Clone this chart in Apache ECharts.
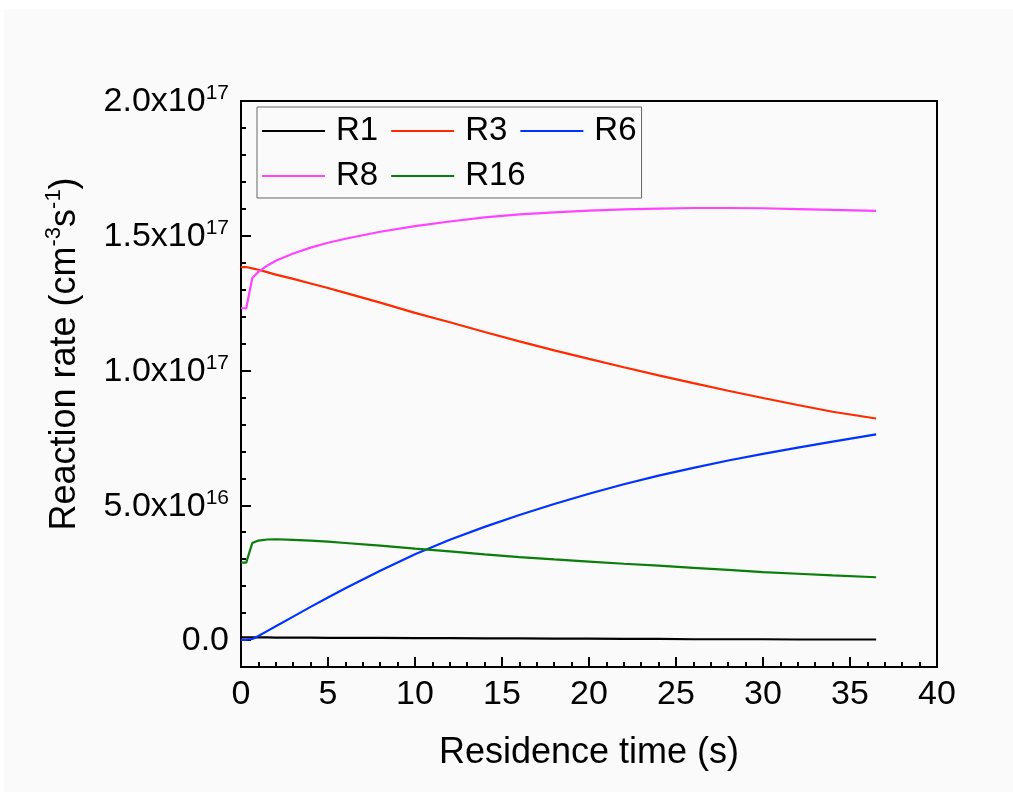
<!DOCTYPE html>
<html>
<head>
<meta charset="utf-8">
<script src="https://cdn.jsdelivr.net/npm/echarts@6/dist/echarts.min.js"></script>
<style>
  html, body { margin: 0; padding: 0; background: #ffffff; }
  #chart { width: 1013px; height: 792px; }
</style>
</head>
<body>
<div id="chart"></div>
<script>
// Residence time (s)
const time = [0, 0.3, 0.65, 1, 1.5, 2, 3, 4, 5, 6, 8, 10, 12, 14, 16, 18, 20, 22, 24, 26, 28, 30, 32, 34, 36.5];

// Reaction rates, in units of 1e16 cm^-3 s^-1
const rateR1 = [0.10, 0.10, 0.10, 0.10, 0.10, 0.09, 0.09, 0.09, 0.08, 0.08, 0.08, 0.07, 0.07, 0.06, 0.06, 0.05, 0.05, 0.04, 0.04, 0.03, 0.03, 0.03, 0.02, 0.02, 0.02];
const rateR3 = [13.84, 13.84, 13.79, 13.74, 13.65, 13.56, 13.40, 13.23, 13.06, 12.88, 12.52, 12.14, 11.79, 11.43, 11.08, 10.75, 10.43, 10.12, 9.82, 9.53, 9.25, 8.98, 8.72, 8.47, 8.22];
const rateR6 = [0.01, 0.01, 0.04, 0.15, 0.33, 0.51, 0.87, 1.23, 1.58, 1.92, 2.57, 3.18, 3.72, 4.20, 4.64, 5.05, 5.43, 5.78, 6.10, 6.39, 6.66, 6.91, 7.14, 7.36, 7.63];
const rateR8 = [12.31, 12.31, 13.43, 13.66, 13.89, 14.07, 14.34, 14.56, 14.74, 14.89, 15.15, 15.36, 15.53, 15.68, 15.79, 15.87, 15.93, 15.98, 16.01, 16.03, 16.03, 16.02, 15.99, 15.96, 15.92];
const rateR16 = [2.87, 2.87, 3.60, 3.69, 3.73, 3.74, 3.72, 3.69, 3.65, 3.60, 3.50, 3.39, 3.29, 3.18, 3.08, 2.99, 2.91, 2.83, 2.76, 2.68, 2.60, 2.52, 2.46, 2.40, 2.33];

const seriesNames = ['R1', 'R3', 'R6', 'R8', 'R16'];
const seriesColors = ['#000000', '#ff2a00', '#0033ff', '#ff44ff', '#0a7d0a'];
const seriesRates = [rateR1, rateR3, rateR6, rateR8, rateR16];

// Labelled y ticks
const yTickValues = [0, 5e16, 1e17, 1.5e17, 2e17];
const rateUnit = 1e16;

const FONT = '"Liberation Sans", Arial, sans-serif';

function sciLabel(v) {
  if (Math.abs(v) < 1) return '{m|0.0}';
  const e = Math.floor(Math.log10(v) + 1e-9);
  const m = v / Math.pow(10, e);
  return '{m|' + m.toFixed(1) + 'x10}{e|' + e + '}';
}

const chart = echarts.init(document.getElementById('chart'), null, { renderer: 'canvas' });

const series = seriesNames.map((name, i) => ({
  name: name,
  type: 'line',
  symbol: 'none',
  smooth: false,
  data: time.map((t, k) => [t, seriesRates[i][k] * rateUnit]),
  lineStyle: { color: seriesColors[i], width: 2.2 },
  itemStyle: { color: seriesColors[i] }
}));

chart.setOption({
  animation: false,
  backgroundColor: '#ffffff',
  textStyle: { fontFamily: FONT },
  graphic: [{
    type: 'rect', z: -100, silent: true,
    shape: { x: 4, y: 9, width: 1009, height: 783 },
    style: { fill: '#fafafa' }
  }],
  grid: {
    left: 241, right: 76, top: 101, bottom: 125,
    show: true, borderColor: '#000000', borderWidth: 2,
    backgroundColor: 'transparent'
  },
  legend: {
    left: 257, top: 107,
    width: 385,
    orient: 'horizontal',
    icon: 'rect',
    itemWidth: 63, itemHeight: 2.2, itemGap: 11,
    padding: [7, 3, 5, 5],
    borderColor: '#666666', borderWidth: 1,
    backgroundColor: 'transparent',
    data: seriesNames,
    textStyle: { fontFamily: FONT, fontSize: 33, color: '#000', lineHeight: 34, padding: [0, 2, 0, 6] }
  },
  xAxis: {
    type: 'value', min: 0, max: 40, interval: 5,
    name: 'Residence time (s)',
    nameLocation: 'middle', nameGap: 68,
    nameTextStyle: { fontFamily: FONT, fontSize: 36, color: '#000' },
    axisLine: { show: true, onZero: false, lineStyle: { color: '#000', width: 2 } },
    axisTick: { show: true, inside: true, length: 10, lineStyle: { color: '#000', width: 2 } },
    minorTick: { show: true, splitNumber: 5, length: 5, lineStyle: { color: '#000', width: 2 } },
    axisLabel: { margin: 11, fontFamily: FONT, fontSize: 34, color: '#000', lineHeight: 34 },
    splitLine: { show: false }
  },
  yAxis: [{
    type: 'value', min: -1e16, max: 2e17,
    name: '{a|Reaction rate (cm}{s|-3}{a|s}{s|-1}{a|)}',
    nameLocation: 'middle', nameGap: 158, nameRotate: 90,
    nameTextStyle: {
      fontFamily: FONT, color: '#000',
      padding: [0, 0, 0, 60],
      rich: {
        a: { fontFamily: FONT, fontSize: 36, lineHeight: 40, verticalAlign: 'bottom', color: '#000' },
        s: { fontFamily: FONT, fontSize: 22, verticalAlign: 'top', color: '#000' }
      }
    },
    axisLine: { show: true, onZero: false, lineStyle: { color: '#000', width: 2 } },
    axisTick: { show: true, inside: true, length: 10, customValues: yTickValues, lineStyle: { color: '#000', width: 2 } },
    axisLabel: {
      margin: 12, customValues: yTickValues,
      formatter: sciLabel,
      rich: {
        m: { fontFamily: FONT, fontSize: 34, lineHeight: 36, verticalAlign: 'bottom', color: '#000' },
        e: { fontFamily: FONT, fontSize: 21, verticalAlign: 'top', color: '#000' }
      }
    },
    splitLine: { show: false }
  }, {
    // minor ticks every 1e16
    type: 'value', min: -1e16, max: 2e17, interval: 1e16, position: 'left',
    axisLine: { show: false },
    axisTick: { show: true, inside: true, length: 5, lineStyle: { color: '#000', width: 2 } },
    axisLabel: { show: false },
    splitLine: { show: false }
  }],
  series: series
});
</script>
</body>
</html>
